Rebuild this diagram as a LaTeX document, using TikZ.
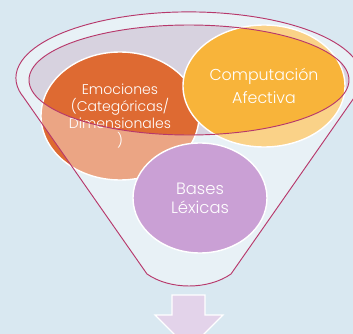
\documentclass[tikz,border=0pt]{standalone}
\usepackage{fontspec}
\setmainfont{Poppins}[UprightFont={* Light}]
\usepackage{tikz}
\usetikzlibrary{shapes.geometric}

\definecolor{bgblue}{HTML}{D9E8F1}
\definecolor{rimline}{HTML}{B7386B}
\definecolor{emocolor}{HTML}{DE6A32}
\definecolor{compcolor}{HTML}{F8B43A}
\definecolor{basecolor}{HTML}{A862B9}
\definecolor{mouthgray}{HTML}{D7D2DF}
\definecolor{arrowcolor}{HTML}{E3D3EA}

\begin{document}
\begin{tikzpicture}[x=0.03cm,y=-0.03cm]
    \tikzstyle{blob}=[ellipse,draw=white,line width=1.2pt,text=white,align=center,inner sep=0pt]
    \tikzstyle{rim}=[draw=rimline,line width=0.8pt]
    \clip (0,0) rectangle (353,334);
    \fill[bgblue] (0,0) rectangle (353,334);
    % mouth of the funnel
    \fill[mouthgray] (189,80) ellipse [x radius=160, y radius=55];
    \node (emo)[blob,fill=emocolor,minimum width=4.74cm,minimum height=3.84cm,font=\fontsize{12}{14.5}\selectfont] at (120,116) {Emociones\\(Categóricas/\\Dimensionales\\)};
    \node (comp)[blob,fill=compcolor,minimum width=4.86cm,minimum height=3.66cm,font=\fontsize{13.5}{19.6}\selectfont] at (264,86) {Computación\\Afectiva};
    \node (bases)[blob,fill=basecolor,minimum width=4.02cm,minimum height=3.3cm,font=\fontsize{14}{16.2}\selectfont] at (200,198) {Bases\\Léxicas};
    % funnel body over the circles
    \fill[white,fill opacity=0.4,even odd rule] (22,95) -- (147,274) .. controls (170,290) and (208,290) .. (231,274) -- (356,95) arc[start angle=15,end angle=-195,x radius=173,y radius=66] -- cycle (189,80) ellipse [x radius=160, y radius=55];
    \draw[rim] (22,95) -- (147,274) .. controls (170,290) and (208,290) .. (231,274) -- (356,95) arc[start angle=15,end angle=-195,x radius=173,y radius=66] -- cycle;
    \draw[rim] (189,80) ellipse [x radius=160, y radius=55];
    % arrow below
    \draw[white,fill=arrowcolor,line width=1pt] (172,295) -- (205,295) -- (205,315) -- (223,315) -- (189,349) -- (155,315) -- (172,315) -- cycle;
\end{tikzpicture}
\end{document}
